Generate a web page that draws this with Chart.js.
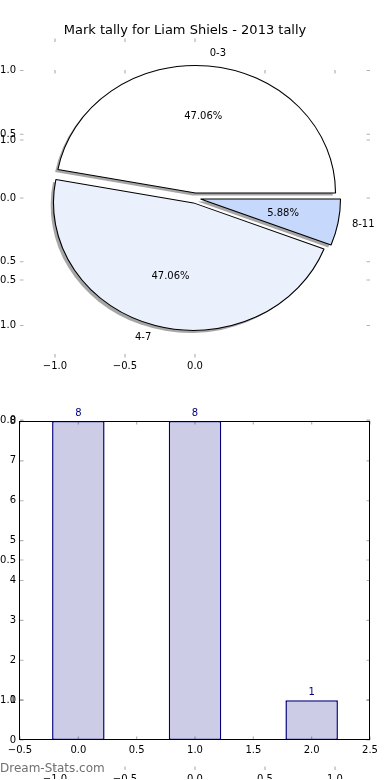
<!DOCTYPE html>
<html>
<head>
<meta charset="utf-8">
<title>Mark tally for Liam Shiels - 2013 tally</title>
<script src="https://cdn.jsdelivr.net/npm/chart.js@4.4.0/dist/chart.umd.min.js"></script>
<style>
body { margin: 0; background: #fff; }
#quadro { position: relative; width: 390px; height: 780px; overflow: hidden; }
#quadro canvas { position: absolute; left: 0; top: 0; }
#marca { position: absolute; left: 0; top: 761px; font: 12px "DejaVu Sans"; color: #707070; }
</style>
</head>
<body>
<div id="quadro">
	<canvas id="eixosFantasma" width="390" height="780"></canvas>
	<canvas id="eixosPizza" width="390" height="780"></canvas>
	<canvas id="graficoPizza" width="390" height="780"></canvas>
	<canvas id="graficoBarras" width="390" height="780"></canvas>
	<div id="marca">Dream-Stats.com</div>
</div>
<script>
var titulo = 'Mark tally for Liam Shiels - 2013 tally';
var faixas = ['0-3', '4-7', '8-11'];
var totais = [8, 8, 1];
var posicoesBarras = [0, 1, 2];

var ticksXPizza = [-1.0, -0.5, 0.0];
var ticksYPizza = [1.0, 0.5, 0.0, -0.5, -1.0];
var ticksXFantasma = [-1.0, -0.5, 0.0, 0.5, 1.0];
var ticksYFantasma = [1.0, 0.5, 0.0, -0.5, -1.0];
var ticksXBarras = [-0.5, 0.0, 0.5, 1.0, 1.5, 2.0, 2.5];
var ticksYBarras = [0, 1, 2, 3, 4, 5, 6, 7, 8];

var coresPizza = ['#ffffff', '#eaf0fc', '#c6d8fc'];
var EXPLODE = 0.04;
var SOMBRA = 0.02;

Chart.defaults.font.family = '"DejaVu Sans"';
Chart.defaults.font.size = 10;
Chart.defaults.color = '#000';

function formatoDecimal(v) {
	return (v < 0 ? '\u2212' : '') + Math.abs(v).toFixed(1);
}

function formatoInteiro(v) {
	return String(v);
}

// caixa da escala com tamanho fixo: o rótulo é recortado pela caixa
function eixo(posicao, min, max, valores, formato, padding, tamanho) {
	return {
		type: 'linear',
		position: posicao,
		min: min,
		max: max,
		offset: false,
		grid: { display: false, drawTicks: false, offset: false },
		border: { display: false },
		afterBuildTicks: function(escala) {
			escala.ticks = valores.map(function(v) { return { value: v }; });
		},
		afterFit: function(escala) {
			if (escala.isHorizontal()) escala.height = tamanho; else escala.width = tamanho;
		},
		ticks: { autoSkip: false, maxRotation: 0, padding: padding, callback: formato }
	};
}

// marcas de tick para dentro, nos quatro lados (estilo matplotlib)
var marcasInternas = {
	id: 'marcasInternas',
	afterDraw: function(chart) {
		var ctx = chart.ctx, area = chart.chartArea, len = 3.5;
		ctx.save();
		ctx.strokeStyle = 'rgba(0,0,0,0.3)';
		ctx.lineWidth = 1.2;
		Object.keys(chart.scales).forEach(function(id) {
			var escala = chart.scales[id];
			escala.ticks.forEach(function(t) {
				var p = escala.getPixelForValue(t.value);
				ctx.beginPath();
				if (escala.isHorizontal()) {
					ctx.moveTo(p, area.top); ctx.lineTo(p, area.top + len);
					ctx.moveTo(p, area.bottom); ctx.lineTo(p, area.bottom - len);
				} else {
					ctx.moveTo(area.left, p); ctx.lineTo(area.left + len, p);
					ctx.moveTo(area.right, p); ctx.lineTo(area.right - len, p);
				}
				ctx.stroke();
			});
		});
		ctx.restore();
	}
};

var moldura = {
	id: 'moldura',
	afterDraw: function(chart) {
		var ctx = chart.ctx, a = chart.chartArea;
		ctx.save();
		ctx.strokeStyle = '#000';
		ctx.lineWidth = 1;
		ctx.strokeRect(Math.round(a.left) - 0.5, Math.round(a.top) + 0.5, Math.round(a.right - a.left), Math.round(a.bottom - a.top) - 1);
		ctx.restore();
	}
};

// fatias deslocadas, com sombra e achatadas como nos eixos do matplotlib
var fatiasExplodidas = {
	id: 'fatiasExplodidas',
	beforeDatasetsDraw: function(chart) {
		var ctx = chart.ctx;
		var arcos = chart.getDatasetMeta(0).data;
		var sy = chart.chartArea.height / chart.chartArea.width;
		var cx = arcos[0].x, cy = arcos[0].y;
		ctx.save();
		ctx.translate(cx, cy);
		ctx.scale(1, sy);
		ctx.translate(-cx, -cy);
		arcos.forEach(function(a) {
			var meio = (a.startAngle + a.endAngle) / 2;
			var d = EXPLODE * a.outerRadius;
			var ox = Math.cos(meio) * d - SOMBRA * a.outerRadius;
			var oy = Math.sin(meio) * d + SOMBRA * a.outerRadius;
			ctx.beginPath();
			ctx.moveTo(a.x + ox, a.y + oy);
			ctx.arc(a.x + ox, a.y + oy, a.outerRadius, a.startAngle, a.endAngle);
			ctx.closePath();
			ctx.fillStyle = 'rgba(77,77,77,0.5)';
			ctx.fill();
		});
		arcos.forEach(function(a) {
			var meio = (a.startAngle + a.endAngle) / 2;
			var d = EXPLODE * a.outerRadius;
			ctx.save();
			ctx.translate(Math.cos(meio) * d, Math.sin(meio) * d);
			a.draw(ctx);
			ctx.restore();
		});
		ctx.restore();
		return false;
	},
	afterDraw: function(chart) {
		var ctx = chart.ctx;
		var arcos = chart.getDatasetMeta(0).data;
		var valores = chart.data.datasets[0].data;
		var total = valores.reduce(function(s, v) { return s + v; }, 0);
		var sy = chart.chartArea.height / chart.chartArea.width;
		ctx.save();
		ctx.fillStyle = '#000';
		ctx.font = '10px "DejaVu Sans"';
		ctx.textBaseline = 'middle';
		arcos.forEach(function(a, i) {
			var meio = (a.startAngle + a.endAngle) / 2;
			var R = a.outerRadius, d = EXPLODE * R;
			var c = Math.cos(meio), s = Math.sin(meio);
			ctx.textAlign = 'center';
			ctx.fillText((valores[i] / total * 100).toFixed(2) + '%', a.x + c * (0.6 * R + d), a.y + s * (0.6 * R + d) * sy);
			ctx.textAlign = c >= 0 ? 'left' : 'right';
			ctx.fillText(chart.data.labels[i], a.x + c * (1.1 * R + d), a.y + s * (1.1 * R + d) * sy);
		});
		ctx.restore();
	}
};

var rotulosBarras = {
	id: 'rotulosBarras',
	afterDatasetsDraw: function(chart) {
		var ctx = chart.ctx;
		var valores = chart.data.datasets[0].data;
		ctx.save();
		ctx.fillStyle = '#000080';
		ctx.font = '10px "DejaVu Sans"';
		ctx.textAlign = 'center';
		ctx.textBaseline = 'alphabetic';
		chart.getDatasetMeta(0).data.forEach(function(barra, i) {
			ctx.fillText(String(valores[i].y), barra.x, barra.y - 5);
		});
		ctx.restore();
	}
};

var basico = {
	responsive: false,
	animation: false,
	events: []
};

function opcoes(extra) {
	return Object.assign({}, basico, extra);
}

// eixos que sobraram de uma figura anterior
new Chart(document.getElementById('eixosFantasma'), {
	type: 'scatter',
	data: { datasets: [] },
	options: opcoes({
		layout: { padding: { left: 0, right: 20, top: 70, bottom: 0 } },
		plugins: { legend: { display: false }, tooltip: { enabled: false } },
		scales: {
			x: eixo('bottom', -1.25, 1.25, ticksXFantasma, formatoDecimal, 3, 9),
			y: eixo('left', -1.25, 1.25, ticksYFantasma, formatoDecimal, 4, 20)
		}
	}),
	plugins: [marcasInternas]
});

new Chart(document.getElementById('eixosPizza'), {
	type: 'scatter',
	data: { datasets: [] },
	options: opcoes({
		layout: { padding: { left: 0, right: 20, top: 23, bottom: 402.6 } },
		plugins: {
			legend: { display: false },
			tooltip: { enabled: false },
			title: {
				display: true,
				text: titulo,
				color: '#000',
				font: { size: 13, weight: 'normal' },
				padding: { top: 0, bottom: 0 }
			}
		},
		scales: {
			x: eixo('bottom', -1.25, 1.25, ticksXPizza, formatoDecimal, 3, 20),
			y: eixo('left', -1.25, 1.25, ticksYPizza, formatoDecimal, 4, 20)
		}
	}),
	plugins: [marcasInternas]
});

new Chart(document.getElementById('graficoPizza'), {
	type: 'pie',
	data: {
		// o matplotlib gira no sentido anti-horário a partir das 3h
		labels: faixas.slice().reverse(),
		datasets: [{
			data: totais.slice().reverse(),
			backgroundColor: coresPizza.slice().reverse(),
			borderColor: '#000',
			borderWidth: 1.1,
			radius: 140,
			offset: 0,
			hoverOffset: 0
		}]
	},
	options: opcoes({
		rotation: 90,
		layout: { padding: { left: 20, right: 20, top: 38.6, bottom: 422.6 } },
		plugins: { legend: { display: false }, tooltip: { enabled: false } }
	}),
	plugins: [fatiasExplodidas]
});

new Chart(document.getElementById('graficoBarras'), {
	type: 'bar',
	data: {
		datasets: [{
			data: posicoesBarras.map(function(x, i) { return { x: x, y: totais[i] }; }),
			backgroundColor: '#ccccе6'.replace('е', 'e'),
			borderColor: '#00007a',
			borderWidth: 1.5,
			borderSkipped: false,
			// o intervalo mínimo vem dos ticks de 0.5, então 0.9 dá largura 0.45
			barPercentage: 0.9,
			categoryPercentage: 1
		}]
	},
	options: opcoes({
		layout: { padding: { left: 0, right: 20, top: 421, bottom: 20 } },
		plugins: { legend: { display: false }, tooltip: { enabled: false } },
		scales: {
			x: eixo('bottom', -0.5, 2.5, ticksXBarras, formatoDecimal, 4, 20),
			y: eixo('left', 0, 8, ticksYBarras, formatoInteiro, 4, 20)
		}
	}),
	plugins: [rotulosBarras, marcasInternas, moldura]
});
</script>
</body>
</html>
